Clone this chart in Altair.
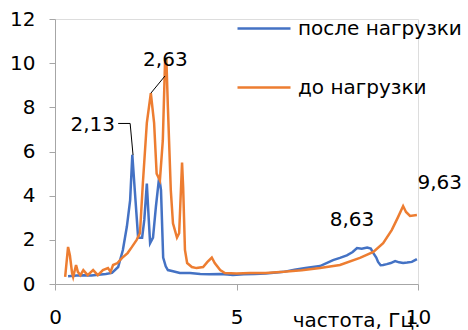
import altair as alt
import pandas as pd

# после нагрузки (blue)
after_x = [0.36, 0.6, 0.8, 1.0, 1.2, 1.4, 1.57, 1.74, 1.87, 1.98, 2.07, 2.13, 2.2, 2.29, 2.4, 2.46, 2.53,
           2.58, 2.62, 2.7, 2.78, 2.87, 2.92, 2.98, 3.05, 3.11, 3.25, 3.44, 3.72, 4.0, 4.25, 4.55, 4.75,
           4.9, 5.2, 5.5, 5.8, 6.1, 6.3, 6.6, 6.9, 7.3, 7.66, 7.85, 8.04, 8.2, 8.32, 8.45, 8.6, 8.7,
           8.77, 8.85, 8.9, 8.97, 9.04, 9.14, 9.25, 9.37, 9.48, 9.59, 9.7, 9.83, 9.97]
after_y = [0.35, 0.38, 0.4, 0.38, 0.42, 0.45, 0.5, 0.77, 1.54, 2.6, 3.8, 5.85, 4.2, 2.1, 2.1, 2.9, 4.55,
           3.0, 1.85, 2.1, 3.5, 4.85, 4.25, 1.2, 0.8, 0.63, 0.58, 0.5, 0.5, 0.45, 0.44, 0.45, 0.43,
           0.41, 0.44, 0.45, 0.48, 0.52, 0.55, 0.65, 0.72, 0.81, 1.08, 1.18, 1.3, 1.45, 1.63, 1.6, 1.65, 1.6,
           1.4, 1.2, 1.0, 0.85, 0.86, 0.9, 0.95, 1.04, 0.98, 0.95, 0.97, 1.0, 1.13]

# до нагрузки (orange)
before_x = [0.28, 0.36, 0.41, 0.47, 0.5, 0.58, 0.63, 0.7, 0.78, 0.9, 1.05, 1.18, 1.32, 1.46, 1.53, 1.6,
            1.72, 1.85, 2.0, 2.12, 2.25, 2.34, 2.42, 2.53, 2.64, 2.73, 2.8, 2.89, 2.97, 3.03, 3.07, 3.11,
            3.19, 3.25, 3.36, 3.42, 3.5, 3.53, 3.58, 3.64, 3.77, 3.9, 4.08, 4.2, 4.32, 4.4, 4.55, 4.68,
            5.0, 5.37, 5.8, 6.3, 6.8, 7.3, 7.85, 8.4, 8.77, 9.04, 9.28, 9.45, 9.59, 9.67, 9.78, 9.97]
before_y = [0.32, 1.68, 1.3, 0.5, 0.32, 0.86, 0.55, 0.4, 0.63, 0.4, 0.63, 0.4, 0.63, 0.72, 0.55, 0.86,
            0.95, 1.18, 1.4, 1.68, 2.0, 2.3, 4.55, 7.3, 8.64, 7.3, 5.0, 4.7, 6.5, 10.0, 10.1, 8.0,
            4.25, 2.75, 2.1, 2.3, 5.5, 4.4, 1.54, 0.95, 0.77, 0.72, 0.77, 1.0, 1.2, 0.95, 0.63, 0.5,
            0.48, 0.5, 0.5, 0.55, 0.62, 0.72, 0.86, 1.18, 1.45, 1.85, 2.45, 3.03, 3.53, 3.26, 3.08, 3.12]

series_names = ["после нагрузки", "до нагрузки"]
series_colors = ["#4472C4", "#ED7D31"]

ann_text = ["2,13", "2,63", "8,63", "9,63"]
ann_x = [1.04, 3.04, 8.18, 10.6]
ann_y = [7.2, 10.14, 2.9, 4.57]

lead_id = [1, 1, 1, 2, 2]
lead_order = [0, 1, 2, 0, 1]
lead_x = [1.74, 2.07, 2.15, 3.03, 2.64]
lead_y = [7.27, 7.27, 5.84, 9.42, 8.64]

x_ticks = [0, 5, 10]
y_ticks = [0, 2, 4, 6, 8, 10, 12]

rows = []
for i, (xs, ys) in enumerate([(after_x, after_y), (before_x, before_y)]):
    for j, (a, b) in enumerate(zip(xs, ys)):
        rows.append({"f": a, "v": b, "s": series_names[i], "o": j})
df = pd.DataFrame(rows)

FONT = "DejaVu Sans"
xscale = alt.Scale(domain=[0, 10], nice=False)
yscale = alt.Scale(domain=[0, 12], nice=False)

lines = alt.Chart(df).mark_line(strokeWidth=2.5).encode(
    x=alt.X("f:Q", scale=xscale, axis=alt.Axis(
        values=x_ticks, title="частота, Гц.", grid=False, labelFlush=False,
        domainColor="#A6A6A6", tickColor="#A6A6A6", tickSize=6,
        labelFontSize=20, labelFont=FONT, labelColor="#000000", labelPadding=17,
        titleFontSize=20, titleFont=FONT, titleFontWeight="normal", titleColor="#000000",
        titleX=365, titleY=36, titleAlign="right", titleBaseline="middle")),
    y=alt.Y("v:Q", scale=yscale, axis=alt.Axis(
        values=y_ticks, title=None, grid=False,
        domainColor="#A6A6A6", tickColor="#A6A6A6", tickSize=6,
        labelFontSize=20, labelFont=FONT, labelColor="#000000", labelPadding=14)),
    color=alt.Color("s:N", scale=alt.Scale(domain=series_names, range=series_colors),
                    legend=alt.Legend(title=None, orient="none", legendX=181, legendY=-18.5,
                                      symbolType="stroke", symbolSize=2809, symbolStrokeWidth=2.5,
                                      labelFontSize=20, labelFont=FONT, labelColor="#000000",
                                      labelOffset=6, labelLimit=400, rowPadding=21, padding=0)),
    order="o:Q",
)

ann_df = pd.DataFrame({"t": ann_text, "x": ann_x, "y": ann_y})
labels = alt.Chart(ann_df).mark_text(fontSize=20, font=FONT, color="#000000",
                                     align="center", baseline="middle").encode(
    x=alt.X("x:Q", scale=xscale), y=alt.Y("y:Q", scale=yscale), text="t:N")

lead_df = pd.DataFrame({"id": lead_id, "o": lead_order, "x": lead_x, "y": lead_y})
leaders = alt.Chart(lead_df).mark_line(color="#000000", strokeWidth=1).encode(
    x=alt.X("x:Q", scale=xscale), y=alt.Y("y:Q", scale=yscale),
    detail="id:N", order="o:Q")

chart = alt.layer(lines, leaders, labels).properties(
    width=363, height=265,
    autosize=alt.AutoSizeParams(type="none"),
    padding={"left": 55, "top": 19, "right": 50, "bottom": 46},
).configure_view(stroke=None).configure(background="white")

chart.save("out.html", embed_options={"renderer": "svg", "actions": False})
